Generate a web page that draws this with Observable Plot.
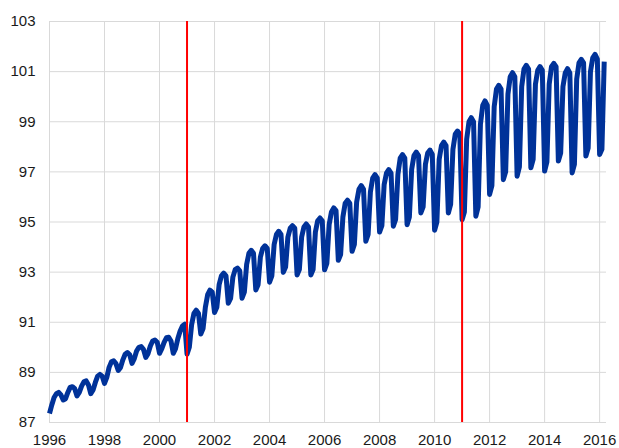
<!DOCTYPE html>
<html>
<head>
<meta charset="utf-8">
<script src="https://cdn.jsdelivr.net/npm/d3@7"></script>
<script src="https://cdn.jsdelivr.net/npm/@observablehq/plot@0.6"></script>
<style>
  html, body { margin: 0; padding: 0; background: #ffffff; }
  svg { display: block; }
</style>
</head>
<body>
<div id="chart"></div>
<script>
// Monthly index values (Jan..Dec)
const startYear = 1996;
const y1996 = [87.36, 87.70, 88.00, 88.15, 88.20, 88.10, 87.90, 87.95, 88.20, 88.40, 88.43, 88.35];
const y1997 = [88.06, 88.20, 88.45, 88.62, 88.66, 88.50, 88.15, 88.30, 88.60, 88.85, 88.92, 88.85];
const y1998 = [88.56, 88.80, 89.20, 89.42, 89.46, 89.35, 89.08, 89.20, 89.50, 89.72, 89.79, 89.70];
const y1999 = [89.36, 89.55, 89.85, 90.00, 90.03, 89.92, 89.60, 89.75, 90.05, 90.25, 90.29, 90.20];
const y2000 = [89.76, 89.95, 90.20, 90.38, 90.40, 90.25, 89.76, 89.95, 90.35, 90.65, 90.85, 90.92];
const y2001 = [89.73, 90.00, 90.90, 91.35, 91.48, 91.35, 90.53, 90.75, 91.60, 92.10, 92.28, 92.20];
const y2002 = [91.39, 91.60, 92.50, 92.85, 92.96, 92.85, 91.76, 91.95, 92.80, 93.10, 93.16, 93.05];
const y2003 = [91.96, 92.20, 93.30, 93.75, 93.87, 93.75, 92.29, 92.50, 93.60, 93.95, 94.05, 93.95];
const y2004 = [92.60, 92.85, 94.10, 94.50, 94.63, 94.50, 92.99, 93.20, 94.40, 94.75, 94.85, 94.75];
const y2005 = [92.89, 93.10, 94.40, 94.80, 94.92, 94.80, 92.89, 93.10, 94.60, 95.05, 95.16, 95.05];
const y2006 = [93.09, 93.35, 94.90, 95.40, 95.56, 95.45, 93.47, 93.70, 95.20, 95.75, 95.87, 95.75];
const y2007 = [93.83, 94.10, 95.80, 96.30, 96.45, 96.30, 94.23, 94.50, 96.20, 96.75, 96.89, 96.75];
const y2008 = [94.60, 94.85, 96.50, 96.95, 97.09, 96.95, 94.83, 95.10, 96.90, 97.55, 97.69, 97.55];
const y2009 = [94.89, 95.20, 97.10, 97.65, 97.79, 97.65, 95.36, 95.60, 97.30, 97.75, 97.87, 97.70];
const y2010 = [94.67, 95.00, 97.50, 98.05, 98.19, 98.05, 95.36, 95.70, 97.90, 98.50, 98.63, 98.50];
const y2011 = [95.09, 95.40, 98.30, 99.00, 99.16, 99.00, 95.23, 95.60, 98.90, 99.65, 99.83, 99.65];
const y2012 = [96.10, 96.45, 99.60, 100.30, 100.45, 100.30, 96.69, 97.00, 100.10, 100.80, 100.96, 100.80];
const y2013 = [96.83, 97.20, 100.40, 101.10, 101.25, 101.10, 97.16, 97.50, 100.50, 101.05, 101.20, 101.05];
const y2014 = [97.03, 97.40, 100.50, 101.20, 101.33, 101.20, 97.43, 97.75, 100.40, 100.95, 101.12, 100.95];
const y2015 = [96.96, 97.30, 100.70, 101.35, 101.49, 101.35, 97.63, 97.95, 101.00, 101.55, 101.69, 101.50];
const y2016 = [97.69, 97.90, 101.40];

const xTicks = [1996, 1998, 2000, 2002, 2004, 2006, 2008, 2010, 2012, 2014, 2016];
const yTicks = [87, 89, 91, 93, 95, 97, 99, 101, 103];
const breakYears = [2001, 2011];

const years = [y1996, y1997, y1998, y1999, y2000, y2001, y2002, y2003, y2004, y2005,
               y2006, y2007, y2008, y2009, y2010, y2011, y2012, y2013, y2014, y2015, y2016];
const data = [];
years.forEach((arr, i) => arr.forEach((v, m) => data.push({ t: startYear + i + m / 12, v })));

const chart = Plot.plot({
  width: 619,
  height: 448,
  marginTop: 21,
  marginBottom: 26,
  marginLeft: 49,
  marginRight: 13,
  style: {
    fontFamily: "'Liberation Sans', Arial, sans-serif",
    fontSize: "15px",
    color: "#1a1a1a",
    background: "#ffffff"
  },
  x: {
    domain: [1996, 2016.25],
    ticks: xTicks,
    tickFormat: d3.format("d"),
    tickSize: 0,
    tickPadding: 12,
    label: null
  },
  y: {
    domain: [87, 103],
    ticks: yTicks,
    tickSize: 0,
    tickPadding: 14,
    label: null
  },
  marks: [
    Plot.ruleY(yTicks, { stroke: "#d9d9d9", strokeWidth: 1 }),
    Plot.ruleX(xTicks, { stroke: "#d9d9d9", strokeWidth: 1 }),
    Plot.line(data, {
      x: "t", y: "v",
      stroke: "#003299",
      strokeWidth: 5,
      strokeLinejoin: "round",
      strokeLinecap: "butt"
    }),
    Plot.ruleX(breakYears, { stroke: "#ff0000", strokeWidth: 2 })
  ]
});
document.getElementById("chart").appendChild(chart);
</script>
</body>
</html>
